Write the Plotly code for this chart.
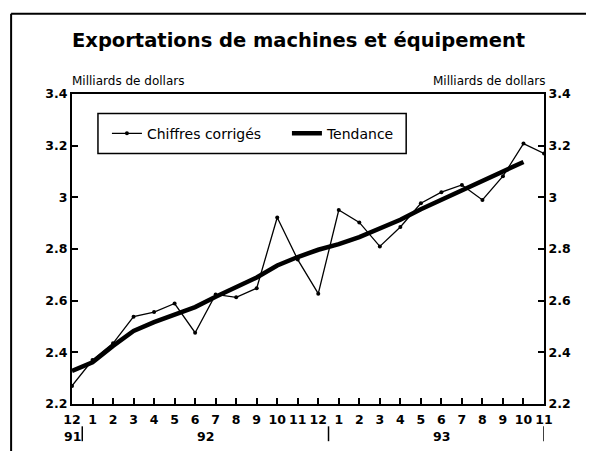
import plotly.graph_objects as go

# ---- data ----
month_labels = ["12", "1", "2", "3", "4", "5", "6", "7", "8", "9", "10", "11",
                "12", "1", "2", "3", "4", "5", "6", "7", "8", "9", "10", "11"]
year_of_month = ["91"] + ["92"] * 12 + ["93"] * 11
chiffres = [2.27, 2.37, 2.435, 2.538, 2.556, 2.589, 2.476, 2.624, 2.613, 2.648,
            2.922, 2.759, 2.627, 2.951, 2.903, 2.81, 2.885, 2.977, 3.02, 3.048,
            2.99, 3.082, 3.208, 3.17]
tendance = [2.328, 2.361, 2.425, 2.483, 2.517, 2.547, 2.575, 2.615, 2.652, 2.69,
            2.736, 2.769, 2.797, 2.819, 2.846, 2.878, 2.913, 2.954, 2.99, 3.029,
            3.064, 3.102, 3.137]
y_tickvals = [2.2, 2.4, 2.6, 2.8, 3.0, 3.2, 3.4]
y_ticktext = ["2.2", "2.4", "2.6", "2.8", "3", "3.2", "3.4"]

FONT = "DejaVu Sans, Liberation Sans, Arial, sans-serif"
idx = list(range(len(month_labels)))

fig = go.Figure()
fig.add_trace(go.Scatter(
    x=idx, y=chiffres, mode="lines+markers", name="Chiffres corrigés",
    line=dict(color="black", width=1.3),
    marker=dict(color="black", size=4)))
fig.add_trace(go.Scatter(
    x=idx[:len(tendance)], y=tendance, mode="lines", name="Tendance",
    line=dict(color="black", width=4.5)))
# invisible trace on right axis
fig.add_trace(go.Scatter(x=[idx[0]], y=[y_tickvals[0]], yaxis="y2",
                         mode="markers", marker=dict(opacity=0),
                         showlegend=False, hoverinfo="skip"))

# year labels and separators
years = []
for y in year_of_month:
    if y not in years:
        years.append(y)
annotations = []
shapes = []
for yr in years:
    ids = [i for i, v in enumerate(year_of_month) if v == yr]
    annotations.append(dict(x=sum(ids) / len(ids), y=-0.105, xref="x", yref="paper",
                            text=yr, showarrow=False, xanchor="center",
                            yanchor="middle",
                            font=dict(family=FONT, size=12.5, color="black",
                                      weight="bold")))
    sep = max(ids) + 0.5 if yr != years[-1] else max(ids)
    shapes.append(dict(type="line", xref="x", yref="paper", x0=sep, x1=sep,
                       y0=-0.072, y1=-0.12,
                       line=dict(color="black", width=1.5)))

annotations += [
    dict(x=-0.004, y=1.172, xref="paper", yref="paper", xanchor="left",
         yanchor="middle", showarrow=False,
         text="Exportations de machines et équipement",
         font=dict(family=FONT, size=19.5, color="black", weight="bold")),
    dict(x=-0.004, y=1.043, xref="paper", yref="paper", xanchor="left",
         yanchor="middle", showarrow=False, text="Milliards de dollars",
         font=dict(family=FONT, size=12, color="black")),
    dict(x=1.006, y=1.043, xref="paper", yref="paper", xanchor="right",
         yanchor="middle", showarrow=False, text="Milliards de dollars",
         font=dict(family=FONT, size=12, color="black")),
]
# outer frame (open to the right/bottom) and legend box
shapes += [
    dict(type="line", xref="paper", yref="paper", x0=-0.129, x1=1.3,
         y0=1.259, y1=1.259, line=dict(color="black", width=2)),
    dict(type="line", xref="paper", yref="paper", x0=-0.129, x1=-0.129,
         y0=-0.3, y1=1.259, line=dict(color="black", width=2)),
    dict(type="rect", xref="paper", yref="paper", x0=0.055, x1=0.708,
         y0=0.808, y1=0.937, line=dict(color="black", width=1.5)),
]

axis_common = dict(showline=True, linecolor="black", linewidth=2,
                   ticks="inside", ticklen=6, tickwidth=1.5, tickcolor="black",
                   showgrid=False, zeroline=False,
                   tickfont=dict(family=FONT, size=12.5, color="black", weight="bold"))

# page body has an 8px margin: figure is drawn at (8, 8)
fig.update_layout(
    width=578, height=443,
    margin=dict(l=64, r=42, t=85.5, b=46.5),
    paper_bgcolor="white", plot_bgcolor="white",
    showlegend=True,
    legend=dict(orientation="h", x=0.074, y=0.872, xanchor="left", yanchor="middle",
                bgcolor="rgba(0,0,0,0)", borderwidth=0,
                entrywidth=135, entrywidthmode="pixels",
                font=dict(family=FONT, size=14, color="black")),
    xaxis=dict(range=[0, len(month_labels) - 1], tickvals=idx,
               ticktext=month_labels, mirror=True, ticklabelstandoff=3,
               **axis_common),
    yaxis=dict(range=[y_tickvals[0], y_tickvals[-1]], tickvals=y_tickvals,
               ticktext=y_ticktext, **axis_common),
    yaxis2=dict(range=[y_tickvals[0], y_tickvals[-1]], tickvals=y_tickvals,
                ticktext=y_ticktext, overlaying="y", side="right", **axis_common),
    annotations=annotations,
    shapes=shapes,
)

fig.write_html("out.html")
